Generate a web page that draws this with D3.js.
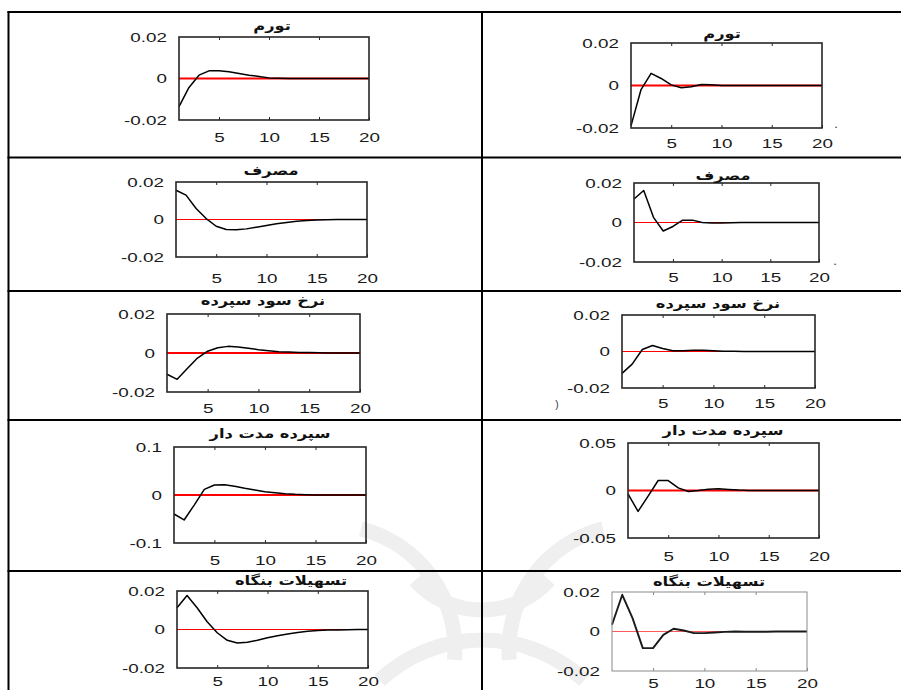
<!DOCTYPE html>
<html>
<head>
<meta charset="utf-8">
<script src="https://cdn.jsdelivr.net/npm/d3@7"></script>
<style>
  html, body { margin: 0; padding: 0; background: #fff; }
  svg { display: block; }
</style>
</head>
<body>
<svg id="chart" width="901" height="690"></svg>
<script>
// ---------------- DATA ----------------
const periods = [1,2,3,4,5,6,7,8,9,10,11,12,13,14,15,16,17,18,19,20];
const xTickValues = [5, 10, 15, 20];
const titles = ["تورم", "مصرف", "نرخ سود سپرده", "سپرده مدت دار", "تسهیلات بنگاه"];
const yTicksSmall = [-0.02, 0, 0.02];
const yTicksTimeDepLeft = [-0.1, 0, 0.1];
const yTicksTimeDepRight = [-0.05, 0, 0.05];

const inflationLeft  = [-0.0136,-0.0043,0.0016,0.0037,0.0037,0.0032,0.0024,0.0016,0.0010,0.0003,0.0001,0,0,0,0,0,0,0,0,0];
const inflationRight = [-0.0190,-0.0019,0.0057,0.0033,0.0003,-0.0011,-0.0006,0.0005,0.0003,0,0,0,0,0,0,0,0,0,0,0];
const consumptionLeft  = [0.0156,0.0130,0.0059,0.0005,-0.0036,-0.0053,-0.0055,-0.0050,-0.0041,-0.0032,-0.0023,-0.0016,-0.0009,-0.0005,-0.0003,-0.0001,0,0,0,0];
const consumptionRight = [0.0119,0.0162,0.0026,-0.0043,-0.0020,0.0012,0.0012,0,-0.0003,-0.0002,-0.0001,0,0,0,0,0,0,0,0,0];
const depositRateLeft  = [-0.0109,-0.0135,-0.0080,-0.0026,0.0009,0.0027,0.0034,0.0031,0.0024,0.0017,0.0012,0.0007,0.0005,0.0003,0.0002,0.0001,0,0,0,0];
const depositRateRight = [-0.0120,-0.0069,0.0011,0.0033,0.0016,0.0004,0.0004,0.0007,0.0007,0.0004,0.0002,0.0001,0,0,0,0,0,0,0,0];
const timeDepositLeft  = [-0.0396,-0.0520,-0.0210,0.0118,0.0208,0.0215,0.0180,0.0139,0.0104,0.0069,0.0049,0.0028,0.0014,0.0007,0.0002,0,0,0,0,0];
const timeDepositRight = [-0.0035,-0.0220,-0.0060,0.0105,0.0105,0.0028,-0.0010,0,0.0014,0.0018,0.0010,0.0004,0.0001,0,0,0,0,0,0,0];
const firmLoansLeft  = [0.0113,0.0177,0.0113,0.0040,-0.0017,-0.0056,-0.0070,-0.0066,-0.0056,-0.0043,-0.0033,-0.0023,-0.0016,-0.0009,-0.0005,-0.0003,-0.0002,-0.0001,0,0];
const firmLoansRight = [0.0034,0.0186,0.0068,-0.0084,-0.0084,-0.0017,0.0014,0.0005,-0.0008,-0.0008,-0.0005,-0.0002,0,-0.0001,-0.0001,-0.0001,0,0,0,0];

// ---------------- LAYOUT (positions & styles) ----------------
const panels = [
  {title: titles[0], values: inflationLeft,    ticks: yTicksSmall,       box:[179,369,37,120],  tx:272, ty:25,  xlab:17, zeroW:2,   zeroC:"#ff0000"},
  {title: titles[0], values: inflationRight,   ticks: yTicksSmall,       box:[631,822,43,128],  tx:722, ty:33,  xlab:15, zeroW:2,   zeroC:"#ff0000"},
  {title: titles[1], values: consumptionLeft,  ticks: yTicksSmall,       box:[176,367,182,257], tx:271, ty:170, xlab:21, zeroW:1,   zeroC:"#ff0000"},
  {title: titles[1], values: consumptionRight, ticks: yTicksSmall,       box:[634,819,183,262], tx:723, ty:175, xlab:15, zeroW:1,   zeroC:"#ff0000"},
  {title: titles[2], values: depositRateLeft,  ticks: yTicksSmall,       box:[167,360,314,392], tx:263, ty:300, xlab:16, zeroW:2,   zeroC:"#ff0000"},
  {title: titles[2], values: depositRateRight, ticks: yTicksSmall,       box:[622,815,315,388], tx:718, ty:303, xlab:15, zeroW:1,   zeroC:"#ff0000"},
  {title: titles[3], values: timeDepositLeft,  ticks: yTicksTimeDepLeft, box:[174,366,447,543], tx:270, ty:433, xlab:17, zeroW:2,   zeroC:"#ff0000"},
  {title: titles[3], values: timeDepositRight, ticks: yTicksTimeDepRight,box:[628,819,443,538], tx:723, ty:430, xlab:18, zeroW:2,   zeroC:"#ff0000"},
  {title: titles[4], values: firmLoansLeft,    ticks: yTicksSmall,       box:[177,368,591,668], tx:291, ty:580, xlab:13, zeroW:1,   zeroC:"#ff0000"},
  {title: titles[4], values: firmLoansRight,   ticks: yTicksSmall,       box:[612,807,592,671], tx:709, ty:581, xlab:12, zeroW:1.2, zeroC:"#ff5a5a", light:true}
];

const SX = 1.45;   // horizontal stretch of the original picture's tick text
const SXT = 1.25;  // horizontal stretch of the titles
const svg = d3.select("#chart");

// faint watermark (background logo)
const wm = svg.append("g").attr("fill", "none").attr("stroke", "#efefef").attr("stroke-width", 15);
[[330, 650, 125, 0.25, 1.65], [634, 650, 125, -1.65, -0.25], [482, 790, 150, -0.75, 0.75], [482, 520, 90, 2.3, 3.98]].forEach(a => {
  wm.append("path").attr("transform", `translate(${a[0]},${a[1]})`)
    .attr("d", d3.arc()({innerRadius: a[2], outerRadius: a[2], startAngle: a[3], endAngle: a[4]}));
});

// table grid
const grid = svg.append("g").attr("stroke", "#000").attr("stroke-width", 2);
[12, 157.5, 291, 420, 571].forEach(y => grid.append("line").attr("x1", 7.5).attr("x2", 901).attr("y1", y).attr("y2", y));
[8.5, 482].forEach(x => grid.append("line").attr("x1", x).attr("x2", x).attr("y1", 11).attr("y2", 690));

panels.forEach(p => {
  const [x0, x1, y0, y1] = p.box;
  const x = d3.scaleLinear().domain([1, 20]).range([x0, x1]);
  const y = d3.scaleLinear().domain([p.ticks[0], p.ticks[2]]).range([y1, y0]);
  const g = svg.append("g");
  const boxColor = p.light ? "#8a8a8a" : "#262626";

  // zero line
  g.append("line").attr("x1", x0).attr("x2", x1).attr("y1", y(0)).attr("y2", y(0))
    .attr("stroke", p.zeroC).attr("stroke-width", p.zeroW);

  // response line
  g.append("path").datum(periods.map((t, i) => [t, p.values[i]]))
    .attr("fill", "none").attr("stroke", p.light ? "#1a1a1a" : "#000")
    .attr("stroke-width", p.light ? 1.9 : 1.5).attr("stroke-linejoin", "round")
    .attr("d", d3.line().x(d => x(d[0])).y(d => y(d[1])));

  // box
  g.append("rect").attr("x", x0).attr("y", y0).attr("width", x1 - x0).attr("height", y1 - y0)
    .attr("fill", "none").attr("stroke", boxColor).attr("stroke-width", p.light ? 1 : 1.6);

  // bottom axis with labels + inner ticks
  const xb = g.append("g").attr("transform", `translate(0,${y1})`)
    .call(d3.axisBottom(x).tickValues(xTickValues).tickSizeInner(-3).tickSizeOuter(0)
      .tickPadding(p.xlab - 4.5).tickFormat(d => String(d)));
  // top axis inner ticks
  const xt = g.append("g").attr("transform", `translate(0,${y0})`)
    .call(d3.axisTop(x).tickValues([5, 10, 15]).tickSizeInner(-3).tickSizeOuter(0).tickFormat(""));
  // left axis labels
  const yl = g.append("g").attr("transform", `translate(${x0},0)`)
    .call(d3.axisLeft(y).tickValues(p.ticks).tickSizeInner(0).tickSizeOuter(0)
      .tickPadding(12 / SX).tickFormat(d => String(d)));

  [xb, xt, yl].forEach(a => {
    a.select(".domain").remove();
    a.selectAll("line").attr("stroke", boxColor).attr("stroke-width", 1);
    a.selectAll("text").attr("font-family", "'Liberation Sans', Arial, sans-serif")
      .attr("font-size", 13).attr("fill", "#1a1a1a")
      .attr("transform", `scale(${SX},1)`);
  });

  // title
  g.append("text").attr("transform", `translate(${p.tx},${p.ty}) scale(${SXT},1)`)
    .attr("text-anchor", "middle").attr("dy", "0.35em")
    .attr("font-family", "'DejaVu Sans', 'Noto Sans', sans-serif").attr("font-weight", "bold")
    .attr("font-size", 13).attr("fill", "#111").attr("direction", "rtl")
    .text(p.title);
});

// small stray marks from the original scan
const stray = svg.append("g").attr("font-family", "'Liberation Sans', Arial, sans-serif").attr("font-size", 13).attr("fill", "#333");
stray.append("text").attr("x", 836).attr("y", 128).attr("text-anchor", "middle").text(".");
stray.append("text").attr("x", 835).attr("y", 265).attr("text-anchor", "middle").text(".");
stray.append("text").attr("x", 557).attr("y", 408).attr("text-anchor", "middle").attr("font-size", 10).text(")");
</script>
</body>
</html>
